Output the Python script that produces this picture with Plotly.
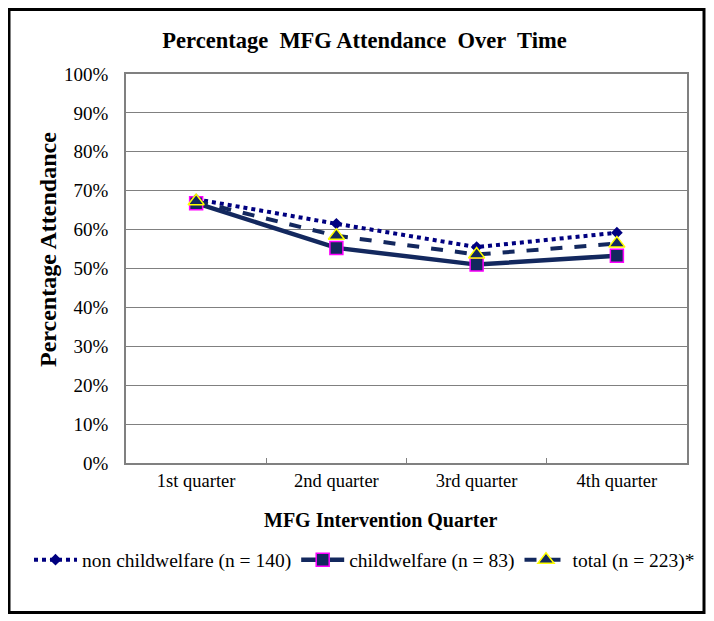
import plotly.graph_objects as go

quarters = ["1st quarter", "2nd quarter", "3rd quarter", "4th quarter"]
non_childwelfare = [67.8, 61.5, 55.5, 59.2]
childwelfare = [66.8, 55.3, 51.0, 53.3]
total = [67.3, 58.4, 53.6, 56.4]
y_ticks = [0, 10, 20, 30, 40, 50, 60, 70, 80, 90, 100]
y_tick_labels = [f"{v}%" for v in y_ticks]

FONT = "Liberation Serif"

W, H = 706, 613
L, R, T, B = 118, 27, 66, 158
pw, ph = W - L - R, H - T - B


def px_x(fx):
    return (fx - L) / pw


def px_y(fy):
    return (T + ph - fy) / ph


fig = go.Figure()
fig.add_trace(go.Scatter(
    x=quarters, y=non_childwelfare, name="non childwelfare (n = 140)",
    mode="lines+markers",
    line=dict(color="#000080", width=4, dash="dot"),
    marker=dict(symbol="diamond", size=9, color="#000080"),
))
fig.add_trace(go.Scatter(
    x=quarters, y=childwelfare, name="childwelfare (n = 83)",
    mode="lines+markers",
    line=dict(color="#13285E", width=4.5),
    marker=dict(symbol="square", size=13, color="#13285E",
                line=dict(color="#FF00FF", width=1.5)),
))
fig.add_trace(go.Scatter(
    x=quarters, y=total, name="total (n = 223)*",
    mode="lines+markers",
    line=dict(color="#13285E", width=4, dash="dash"),
    marker=dict(symbol="triangle-up", size=14, color="#13285E",
                line=dict(color="#FFFF00", width=1.5)),
))

fig.update_layout(
    width=W, height=H,
    margin=dict(l=L, r=R, t=T, b=B, autoexpand=False),
    paper_bgcolor="white", plot_bgcolor="white",
    font=dict(family=FONT, size=18, color="black"),
    title=dict(text="<b>Percentage\u00a0 MFG Attendance\u00a0 Over\u00a0 Time</b>",
               x=356.5 / W, xanchor="center", xref="container",
               y=1 - 32 / H, yanchor="middle", yref="container",
               font=dict(family=FONT, size=22.5, color="black")),
    showlegend=True,
    legend=dict(orientation="h", xref="paper", x=px_x(21.0), xanchor="left",
                yref="paper", y=px_y(552.0), yanchor="middle",
                font=dict(family=FONT, size=19.5, color="black"),
                itemwidth=43, tracegroupgap=0, traceorder="normal",
                bgcolor="rgba(0,0,0,0)"),
    shapes=[dict(type="rect", xref="paper", yref="paper",
                 x0=px_x(1.0), x1=px_x(696.0),
                 y0=px_y(604.5), y1=px_y(1.5),
                 line=dict(color="black", width=3))],
    annotations=[
        dict(text="<b>Percentage Attendance</b>", textangle=-90,
             xref="paper", yref="paper", x=px_x(40.0), y=px_y(242.0),
             xanchor="center", yanchor="middle", showarrow=False,
             font=dict(family=FONT, size=24, color="black")),
        dict(text="<b>MFG Intervention Quarter</b>",
             xref="paper", yref="paper", x=px_x(372.0), y=px_y(512.0),
             xanchor="center", yanchor="middle", showarrow=False,
             font=dict(family=FONT, size=20, color="black")),
    ],
)
fig.update_xaxes(
    type="category", categoryorder="array", categoryarray=quarters,
    range=[-0.5, 3.5],
    showline=True, linecolor="#808080", linewidth=1.5, mirror=True,
    ticks="inside", tickson="boundaries", ticklen=5, tickcolor="#808080",
    showgrid=False,
    tickfont=dict(family=FONT, size=18.5),
)
fig.update_yaxes(
    range=[0, 100], tickvals=y_ticks, ticktext=y_tick_labels,
    showline=True, linecolor="#808080", linewidth=1.5, mirror=True,
    showgrid=True, gridcolor="#808080", gridwidth=1,
    ticks="", ticklabelstandoff=12,
    tickfont=dict(family=FONT, size=19),
)

fig.write_html("out.html")
